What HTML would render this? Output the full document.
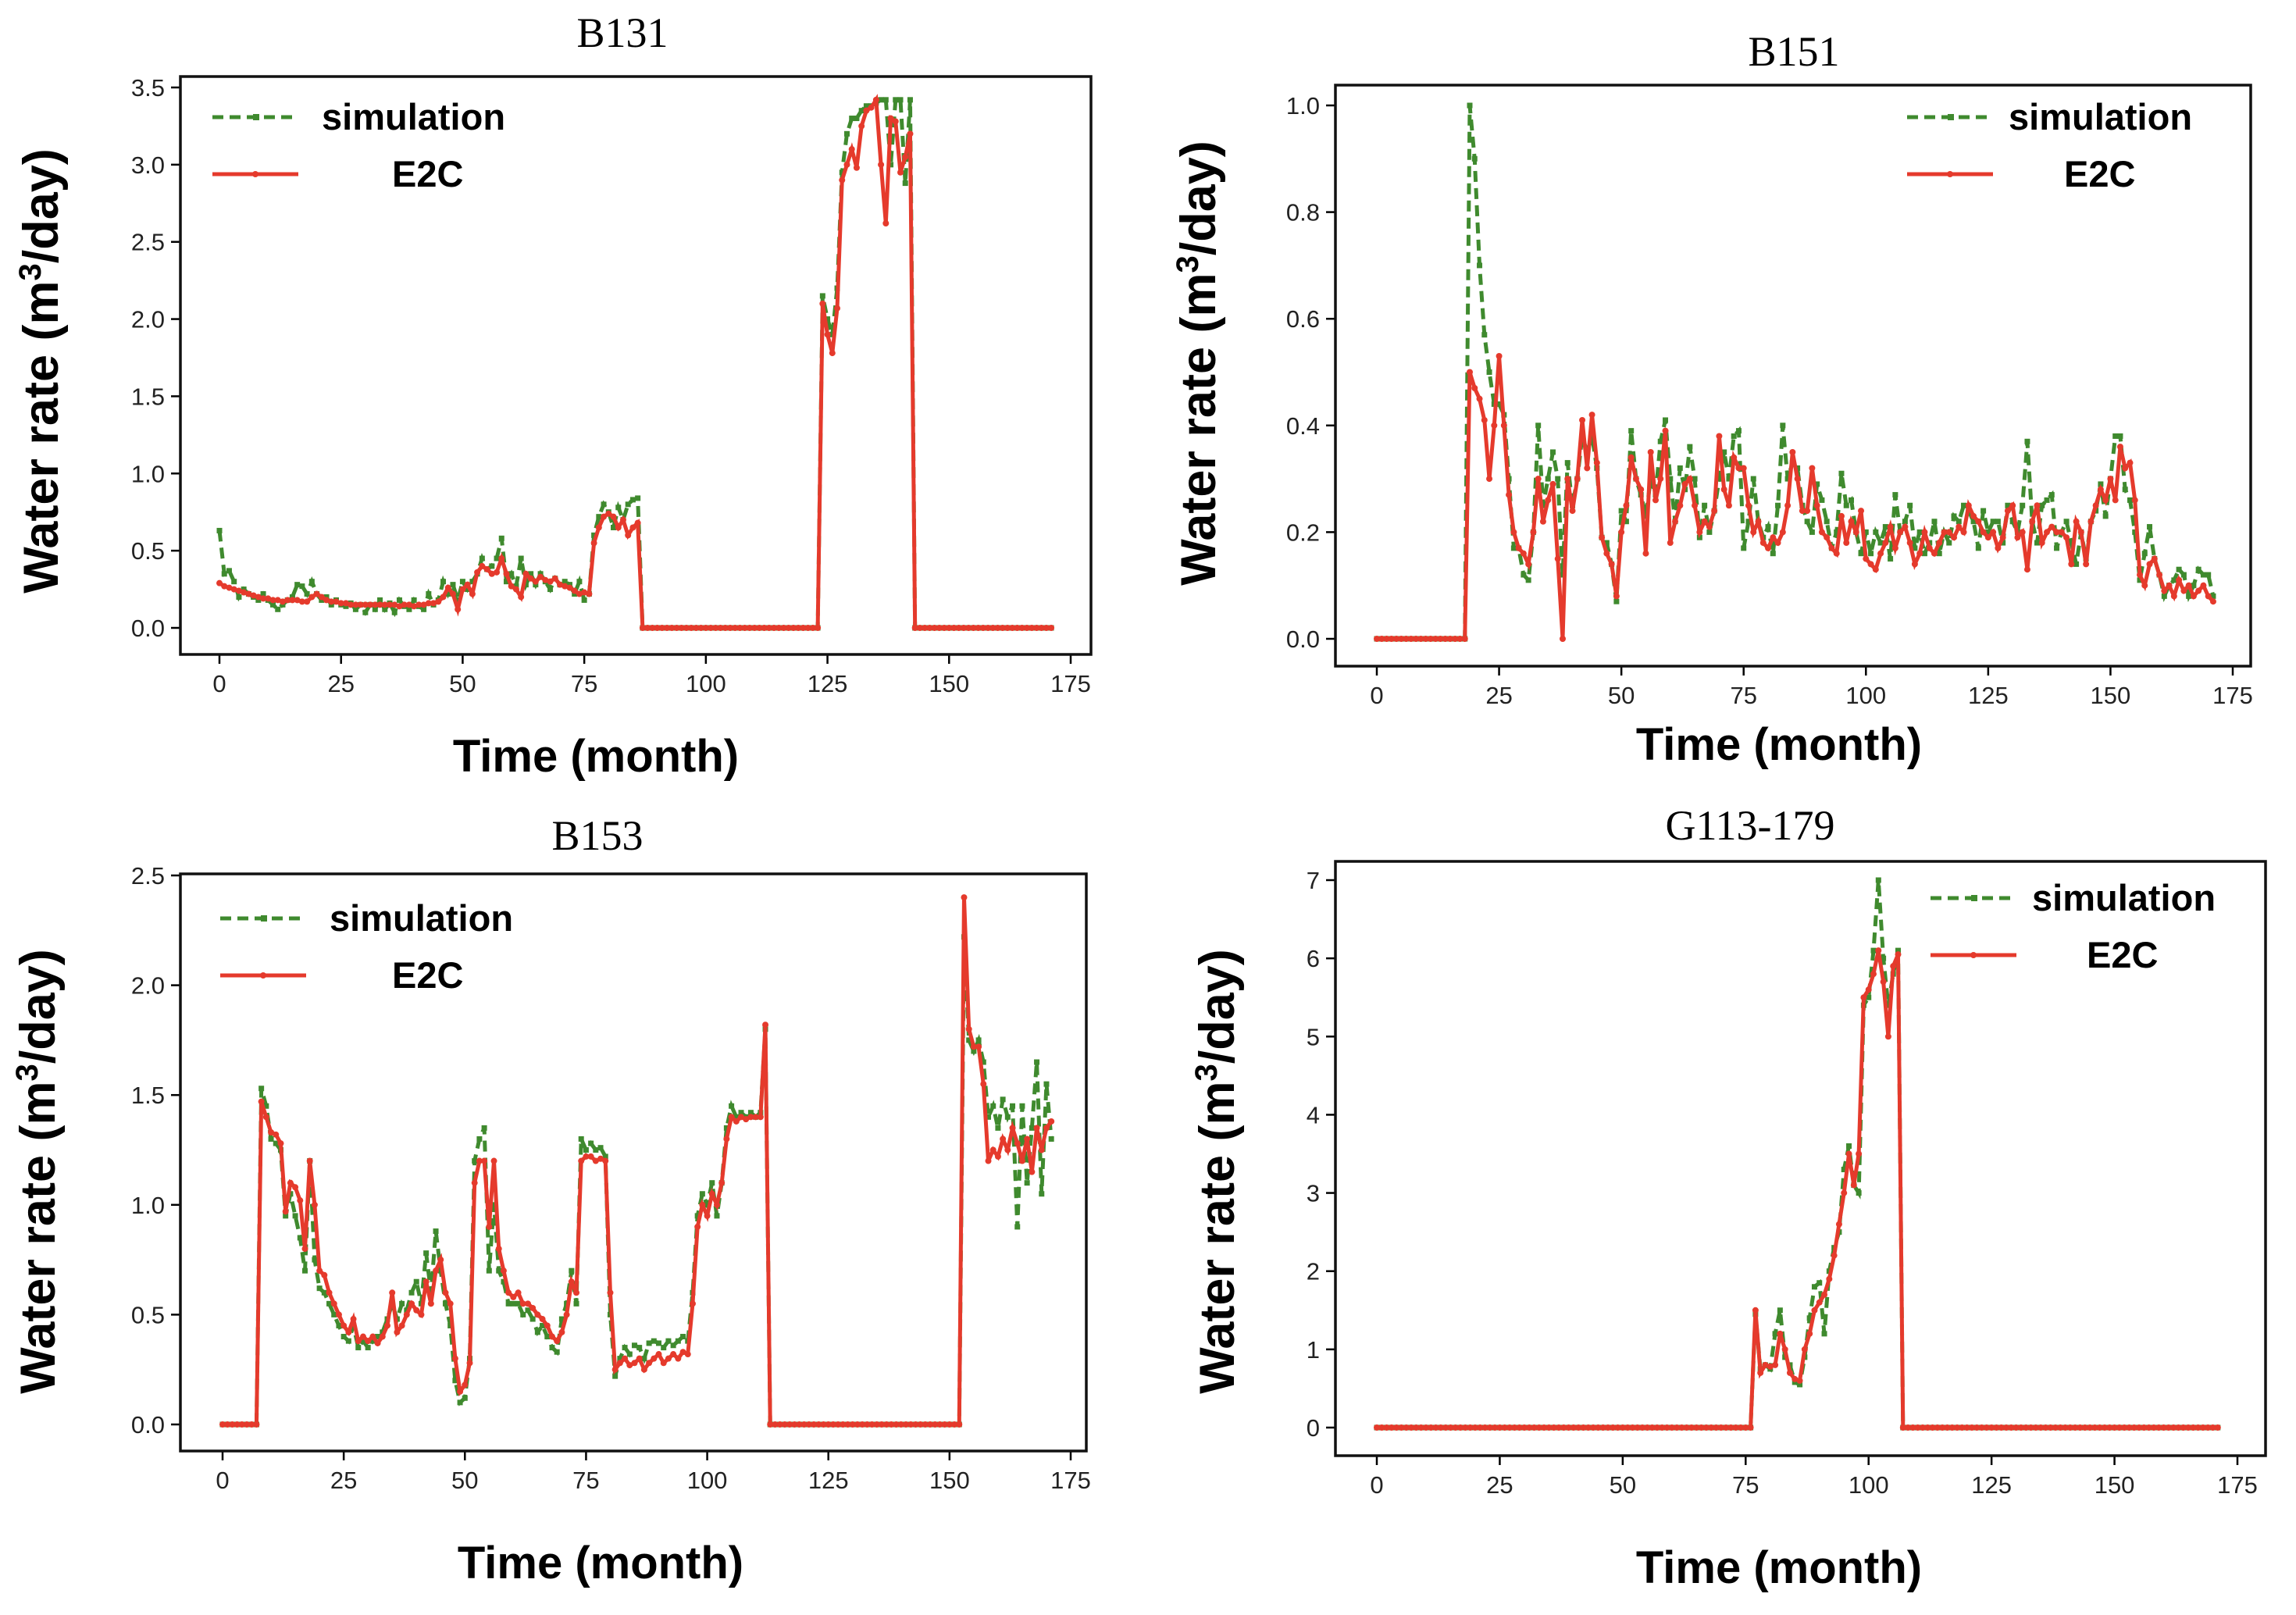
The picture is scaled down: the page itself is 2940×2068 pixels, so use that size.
<!DOCTYPE html>
<html><head><meta charset="utf-8"><style>
html,body{margin:0;padding:0;background:#fff;}
svg{display:block;}
</style></head><body>
<svg id="fig" width="2940" height="2068" viewBox="0 0 2940 2068" xmlns="http://www.w3.org/2000/svg"></svg>
<script>
const months = [];
for (let i = 0; i < 172; i++) months.push(i);
const zeros = n => new Array(n).fill(0);

// B131
const b131E2C = [].concat(
 [.29,.27,.26,.25,.24,.23,.22,.21,.20,.19, .19,.18,.18,.17,.18,.18,.18,.17,.17,.20,
  .22,.20,.18,.17,.17,.16,.16,.15,.15,.15, .15,.15,.15,.15,.15,.15,.15,.14,.15,.15,
  .14,.15,.15,.16,.16,.17,.20,.26,.22,.12, .25,.28,.22,.36,.40,.38,.35,.36,.45,.35,
  .27,.25,.20,.35,.32,.30,.33,.31,.30,.32, .28,.27,.26,.24,.22,.23,.22,.55,.65,.72,
  .74,.72,.65,.70,.60,.65,.68,0,0,0], zeros(34),
 [2.1,1.9,1.78,2.07,2.9,3.0,3.1,2.98,3.25,3.35,3.37,3.42,3.0,2.62,3.3,3.28,2.95,3.05,3.2], zeros(29));
const b131Sim = [].concat(
 [.63,.35,.37,.30,.20,.25,.22,.20,.18,.22, .18,.15,.12,.15,.18,.20,.28,.27,.22,.30,
  .22,.18,.20,.15,.18,.15,.14,.16,.12,.15, .10,.15,.12,.18,.12,.16,.10,.18,.14,.12,
  .18,.14,.12,.22,.15,.18,.30,.22,.28,.18, .30,.25,.30,.35,.45,.38,.40,.45,.58,.30,
  .35,.27,.45,.28,.35,.28,.35,.30,.25,.32, .28,.30,.28,.22,.30,.18,.22,.60,.72,.80,
  .75,.65,.78,.70,.80,.83,.84,0,0,0], zeros(34),
 [2.15,2.0,1.9,2.2,2.95,3.2,3.3,3.3,3.35,3.38,3.38,3.4,3.42,3.42,3.0,3.42,3.42,2.88,3.42], zeros(29));

// B151
const b151E2C = [].concat(zeros(19),
 [.50,.47,.45,.41,.30,.40,.53,.40,.27,.20,.17,
  .16,.14,.20,.30,.22,.26,.29,.15,0,.30, .24,.30,.41,.32,.42,.33,.19,.16,.14,.08,
  .20,.25,.34,.30,.28,.16,.35,.26,.30,.39, .18,.22,.25,.29,.30,.25,.20,.22,.21,.24,
  .38,.28,.25,.34,.32,.32,.25,.20,.22,.18, .17,.19,.18,.20,.25,.35,.30,.24,.24,.32,
  .25,.20,.19,.17,.16,.23,.18,.22,.20,.24, .15,.14,.13,.16,.18,.21,.17,.20,.21,.18,
  .14,.16,.20,.17,.16,.18,.20,.20,.19,.21, .20,.25,.23,.22,.20,.19,.20,.17,.19,.24,
  .25,.19,.20,.13,.22,.25,.18,.20,.21,.20, .20,.19,.14,.22,.20,.14,.22,.25,.28,.26,
  .30,.26,.36,.32,.33,.26,.12,.10,.14,.15, .12,.09,.10,.08,.11,.09,.10,.08,.09,.10,.08,.07]);
const b151Sim = [].concat(zeros(19),
 [1.0,.90,.70,.57,.50,.44,.44,.42,.30,.17,.17,
  .12,.11,.20,.40,.25,.30,.35,.30,.12,.33, .25,.30,.38,.35,.38,.32,.19,.18,.14,.07,
  .24,.22,.39,.30,.27,.23,.30,.27,.37,.41, .30,.22,.32,.28,.36,.30,.19,.25,.20,.24,
  .30,.35,.30,.38,.39,.17,.22,.30,.22,.19, .21,.16,.25,.40,.30,.33,.32,.25,.22,.20,
  .29,.26,.22,.17,.20,.31,.25,.26,.20,.16, .20,.16,.20,.18,.21,.15,.27,.20,.22,.25,
  .17,.20,.16,.18,.22,.16,.20,.18,.23,.22, .25,.24,.22,.17,.24,.20,.22,.22,.18,.25,
  .22,.20,.25,.37,.22,.18,.25,.26,.27,.17, .20,.22,.18,.14,.20,.15,.22,.24,.29,.23,
  .30,.38,.38,.28,.26,.20,.11,.16,.21,.15, .12,.08,.10,.11,.13,.12,.08,.10,.13,.12,.12,.08]);

// B153
const b153E2C = [].concat(zeros(8),
 [1.47,1.40,1.33,1.32,1.28,0.97,1.10,1.08,1.02,0.80,1.20,1.00,
  .70,.68,.60,.55,.50,.45,.42,.48,.38,.40, .38,.40,.37,.40,.45,.60,.42,.45,.50,.55,
  .52,.50,.65,.55,.70,.75,.60,.55,.30,.15, .18,.28,1.10,1.20,1.20,.90,1.20,.80,.70,.60,
  .58,.60,.55,.55,.53,.50,.48,.45,.40,.38, .42,.50,.65,.60,1.20,1.22,1.22,1.20,1.21,1.20,
  .60,.25,.28,.30,.27,.28,.30,.25,.28,.30, .32,.28,.30,.32,.30,.33,.32,.55,.90,1.00,
  .95,1.05,1.00,1.10,1.30,1.40,1.38,1.40,1.39,1.40,1.40,1.40,1.82], zeros(40),
 [2.4,1.80,1.72,1.72,1.55,1.20,1.25,1.22,1.30,1.25,1.35,1.28,1.20,1.30,1.15,1.35,1.25,1.35,1.38]);
const b153Sim = [].concat(zeros(8),
 [1.53,1.45,1.30,1.28,1.25,0.95,1.05,0.95,0.85,0.70,1.20,0.75,
  .62,.60,.55,.50,.45,.40,.38,.45,.35,.38, .35,.38,.40,.42,.48,.55,.48,.55,.52,.60,
  .65,.55,.78,.60,.88,.70,.55,.45,.20,.10, .12,.30,1.20,1.30,1.35,.70,1.00,.70,.65,.55,
  .55,.55,.50,.52,.48,.42,.45,.40,.35,.33, .48,.55,.70,.55,1.30,1.25,1.28,1.25,1.26,1.22,
  .50,.22,.30,.35,.32,.36,.35,.30,.37,.38, .37,.35,.38,.36,.38,.40,.38,.60,.95,1.05,
  1.00,1.10,.95,1.10,1.35,1.45,1.40,1.42,1.40,1.42,1.40,1.42,1.80], zeros(40),
 [2.22,1.75,1.70,1.75,1.65,1.40,1.45,1.35,1.48,1.40,1.45,0.90,1.45,1.10,1.35,1.65,1.05,1.55,1.30]);

// G113-179
const gE2C = [].concat(zeros(77),
 [1.5,.70,.80,.78,.80,1.2,1.0,.70,.62,.60,1.0,1.2,1.5,1.6,1.7,1.9,2.2,2.6,3.0,3.5,3.1,3.5,5.5,5.6,5.8,6.1,5.7,5.0,5.9,6.05], zeros(65));
const gSim = [].concat(zeros(77),
 [1.45,.75,.80,.75,1.2,1.5,.90,.80,.58,.55,.90,1.4,1.8,1.85,1.2,2.0,2.3,2.5,3.3,3.6,3.1,3.0,5.4,5.5,6.1,7.0,6.0,5.4,5.8,6.1], zeros(65));

const xTicks = [0,25,50,75,100,125,150,175];
const yTicks1 = [0,0.5,1.0,1.5,2.0,2.5,3.0,3.5];
const yTicks2 = [0,0.2,0.4,0.6,0.8,1.0];
const yTicks3 = [0,0.5,1.0,1.5,2.0,2.5];
const yTicks4 = [0,1,2,3,4,5,6,7];

const NS = 'http://www.w3.org/2000/svg';
const svg = document.getElementById('fig');
function mk(tag, attrs, parent){ const e=document.createElementNS(NS,tag); for(const k in attrs) e.setAttribute(k,attrs[k]); (parent||svg).appendChild(e); return e; }

const panels = [
 {id:'b131', title:'B131', box:[231,98,1397,838], x0:281, x175:1371, yTop:112, yTopVal:3.5, y0:804, ticks:yTicks1, dec:1, sim:b131Sim, e2c:b131E2C,
  titlePos:[797,60], xl:[763,988], yl:[74,475], leg:[272,150,412,502]},
 {id:'b151', title:'B151', box:[1710,109,2882,853], x0:1763, x175:2859, yTop:135, yTopVal:1.0, y0:818, ticks:yTicks2, dec:1, sim:b151Sim, e2c:b151E2C,
  titlePos:[2297,84], xl:[2278,973], yl:[1556,465], leg:[2442,150,2572,2643]},
 {id:'b153', title:'B153', box:[231,1119,1391,1858], x0:285, x175:1371, yTop:1121, yTopVal:2.5, y0:1824, ticks:yTicks3, dec:1, sim:b153Sim, e2c:b153E2C,
  titlePos:[765,1088], xl:[769,2021], yl:[70,1500], leg:[282,1176,422,502]},
 {id:'g113', title:'G113-179', box:[1710,1103,2901,1864], x0:1763, x175:2865, yTop:1127, yTopVal:7, y0:1828, ticks:yTicks4, dec:0, sim:gSim, e2c:gE2C,
  titlePos:[2241,1075], xl:[2278,2027], yl:[1580,1500], leg:[2472,1150,2602,2672]}
];

panels.forEach(p => {
  const g = mk('g', {});
  
  
  const sx = v => p.x0 + (v/175)*(p.x175-p.x0);
  const sy = v => p.y0 - (v/p.yTopVal)*(p.y0-p.yTop);
  const [L,T,R,B] = p.box;
  const t = mk('text', {x:p.titlePos[0], y:p.titlePos[1], 'text-anchor':'middle', 'font-family':'Liberation Serif, serif', 'font-size':54, fill:'#000'}, g);
  t.textContent = p.title;
  
  
  xTicks.forEach(v => {
    mk('line', {x1:sx(v), x2:sx(v), y1:B, y2:B+12, stroke:'#000', 'stroke-width':2.5}, g);
    const tl = mk('text', {x:sx(v), y:B+48, 'text-anchor':'middle', 'font-family':'Liberation Sans, sans-serif', 'font-size':31, fill:'#222'}, g);
    tl.textContent = v;
    
    
  });
  p.ticks.forEach(v => {
    mk('line', {x1:L-12, x2:L, y1:sy(v), y2:sy(v), stroke:'#000', 'stroke-width':2.5}, g);
    const tl = mk('text', {x:L-20, y:sy(v)+11, 'text-anchor':'end', 'font-family':'Liberation Sans, sans-serif', 'font-size':31, fill:'#222'}, g);
    tl.textContent = v.toFixed(p.dec);
    
    
  });
  const xl = mk('text', {x:p.xl[0], y:p.xl[1], 'text-anchor':'middle', 'font-family':'Liberation Sans, sans-serif', 'font-size':58, 'font-weight':'bold', fill:'#000'}, g);
  xl.textContent = 'Time (month)';
  
  
  const yl = mk('text', {x:0, y:0, transform:`translate(${p.yl[0]},${p.yl[1]}) rotate(-90)`, 'text-anchor':'middle', 'font-family':'Liberation Sans, sans-serif', 'font-size':63, 'font-weight':'bold', fill:'#000'}, g);
  yl.innerHTML = 'Water rate (m<tspan dy="-22" font-size="40">3</tspan><tspan dy="22">/day)</tspan>';
  
  
  const ptsS = months.map(i => sx(i)+','+sy(p.sim[i])).join(' ');
  const ptsE = months.map(i => sx(i)+','+sy(p.e2c[i])).join(' ');
  const ls = mk('polyline', {points:ptsS, fill:'none', stroke:'#3f8a2e', 'stroke-width':5, 'stroke-dasharray':'14,8'}, g);
  
  
  months.forEach(i => { mk('rect', {x:sx(i)-3.5, y:sy(p.sim[i])-3.5, width:7, height:7, fill:'#3f8a2e'}, g); });
  const le = mk('polyline', {points:ptsE, fill:'none', stroke:'#e53a2c', 'stroke-width':5}, g);
  
  
  months.forEach(i => { mk('circle', {cx:sx(i), cy:sy(p.e2c[i]), r:4, fill:'#e53a2c'}, g); });
  mk('rect', {x:L, y:T, width:R-L, height:B-T, fill:'none', stroke:'#111', 'stroke-width':3.5}, g);
  const [lx, ly, tx1, tx2] = p.leg;
  const lg = mk('g', {}, g);
  
  
  mk('line', {x1:lx, x2:lx+110, y1:ly, y2:ly, stroke:'#3f8a2e', 'stroke-width':5, 'stroke-dasharray':'14,8'}, lg);
  mk('rect', {x:lx+52, y:ly-4, width:8, height:8, fill:'#3f8a2e'}, lg);
  const s1 = mk('text', {x:tx1, y:ly+16, 'font-family':'Liberation Sans, sans-serif', 'font-size':47, 'font-weight':'bold', fill:'#000'}, lg);
  s1.textContent = 'simulation';
  
  
  mk('line', {x1:lx, x2:lx+110, y1:ly+73, y2:ly+73, stroke:'#e53a2c', 'stroke-width':5}, lg);
  mk('circle', {cx:lx+55, cy:ly+73, r:4, fill:'#e53a2c'}, lg);
  const s2 = mk('text', {x:tx2, y:ly+89, 'font-family':'Liberation Sans, sans-serif', 'font-size':47, 'font-weight':'bold', fill:'#000'}, lg);
  s2.textContent = 'E2C';
  
  
});
</script>
</body></html>
